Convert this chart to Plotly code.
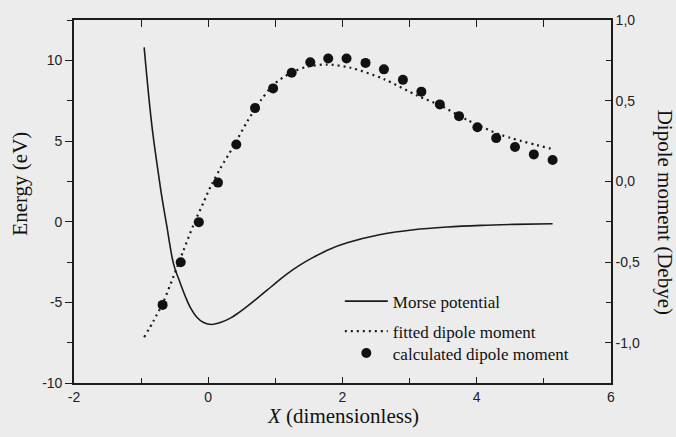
import plotly.graph_objects as go

# ---- data ----
morse_x = [-0.955, -0.84, -0.74, -0.69, -0.62, -0.518, -0.418, -0.34, -0.27, -0.17, -0.07,
           0.055, 0.2, 0.33, 0.45, 0.58, 0.72, 0.876, 1.02, 1.17, 1.37, 1.57, 1.8, 2.07,
           2.567, 3.06, 3.56, 4.06, 4.56, 5.13]
morse_e = [10.8, 5.95, 2.9, 1.5, -0.2, -2.6, -3.8, -4.65, -5.3, -5.92, -6.25,
           -6.37, -6.22, -5.98, -5.65, -5.25, -4.78, -4.25, -3.75, -3.25, -2.68, -2.2, -1.72, -1.31,
           -0.8, -0.5, -0.33, -0.23, -0.17, -0.13]

fit_x = [-0.955, -0.816, -0.667, -0.518, -0.37, -0.22, -0.07, 0.05, 0.18, 0.38, 0.58,
         0.78, 0.975, 1.22, 1.47, 1.77, 2.12, 2.62, 3.11, 3.46, 3.86, 4.36, 5.1]
fit_mu = [-0.966, -0.866, -0.745, -0.59, -0.43, -0.27, -0.13, -0.02, 0.08, 0.22, 0.37,
          0.50, 0.60, 0.67, 0.71, 0.724, 0.704, 0.633, 0.532, 0.47, 0.38, 0.288, 0.203]

calc_x = [-0.68, -0.41, -0.14, 0.145, 0.418, 0.697, 0.966, 1.243, 1.52, 1.787, 2.06,
          2.343, 2.617, 2.9, 3.175, 3.45, 3.736, 4.01, 4.29, 4.57, 4.85, 5.13]
calc_mu = [-0.766, -0.502, -0.253, -0.008, 0.228, 0.454, 0.576, 0.673, 0.738, 0.761, 0.761,
           0.734, 0.694, 0.629, 0.556, 0.477, 0.404, 0.335, 0.268, 0.213, 0.167, 0.132]

x_ticks = [-2, 0, 2, 4, 6]
x_ticktext = ["-2", "0", "2", "4", "6"]
e_ticks = [-10, -5, 0, 5, 10]
e_ticktext = ["-10", "-5", "0", "5", "10"]
mu_ticks = [-1.0, -0.5, 0.0, 0.5, 1.0]
mu_ticktext = ["-1,0", "-0,5", "0,0", "0,5", "1,0"]

BG = "#ececec"
INK = "#1c1c1c"
SERIF = "Liberation Serif, Times New Roman, serif"
SANS = "Liberation Sans, Arial, sans-serif"

fig = go.Figure()
fig.add_trace(go.Scatter(x=morse_x, y=morse_e, mode="lines", name="Morse potential",
                         line=dict(color=INK, width=1.6, shape="spline", smoothing=1.0),
                         xaxis="x", yaxis="y", legendgroup="a"))
fig.add_trace(go.Scatter(x=fit_x, y=fit_mu, mode="lines", name="fitted dipole moment",
                         line=dict(color=INK, width=2.2, dash="2px,4px", shape="spline", smoothing=0.8),
                         xaxis="x2", yaxis="y2", legendgroup="b"))
fig.add_trace(go.Scatter(x=calc_x, y=calc_mu, mode="markers", name="calculated dipole moment",
                         marker=dict(color="#111111", size=10, line=dict(width=0)),
                         xaxis="x2", yaxis="y2", legend="legend2"))

axis_common = dict(showline=True, linecolor=INK, linewidth=1.6, showgrid=False, zeroline=False,
                   tickcolor=INK, tickwidth=1.4, tickfont=dict(family=SANS, size=14, color="#222"))

legend_common = dict(xanchor="left", yanchor="top", bgcolor="rgba(0,0,0,0)",
                     font=dict(family=SERIF, size=17, color="#111"), itemwidth=43)

fig.update_layout(
    width=676, height=437,
    margin=dict(l=74, r=65, t=13, b=54),
    paper_bgcolor=BG, plot_bgcolor=BG,
    xaxis=dict(range=[-2, 6], tickvals=x_ticks, ticktext=x_ticktext, ticks="inside", ticklen=6,
               minor=dict(dtick=1, ticks="inside", ticklen=5, tickcolor=INK, tickwidth=1.4),
               **axis_common),
    xaxis2=dict(range=[-2, 6], overlaying="x", side="top", anchor="y2", tickvals=x_ticks,
                ticks="inside", ticklen=7, showticklabels=False,
                minor=dict(dtick=1, ticks="inside", ticklen=7, tickcolor=INK, tickwidth=1.4),
                **axis_common),
    yaxis=dict(range=[-10, 12.5], tickvals=e_ticks, ticktext=e_ticktext, ticks="outside", ticklen=7,
               minor=dict(dtick=2.5, ticks="outside", ticklen=5, tickcolor=INK, tickwidth=1.4),
               **axis_common),
    yaxis2=dict(range=[-1.25, 1.0], overlaying="y", side="right", anchor="x2",
                tickvals=mu_ticks, ticktext=mu_ticktext, ticks="inside", ticklen=6,
                minor=dict(dtick=0.25, ticks="inside", ticklen=5, tickcolor=INK, tickwidth=1.4),
                **axis_common),
    showlegend=True,
    legend=dict(x=0.495, y=0.274, traceorder="grouped", tracegroupgap=5, **legend_common),
    legend2=dict(x=0.495, y=0.131, **legend_common),
    annotations=[
        dict(text="Energy (eV)", xref="paper", yref="paper", x=-0.1, y=0.55, showarrow=False,
             textangle=-90, font=dict(family=SERIF, size=21, color="#111"), xanchor="center", yanchor="middle"),
        dict(text="Dipole moment (Debye)", xref="paper", yref="paper", x=1.1, y=0.47, showarrow=False,
             textangle=90, font=dict(family=SERIF, size=21, color="#111"), xanchor="center", yanchor="middle"),
        dict(text="<i>X</i> (dimensionless)", xref="paper", yref="paper", x=0.5, y=-0.09, showarrow=False,
             font=dict(family=SERIF, size=21, color="#111"), xanchor="center", yanchor="middle"),
    ],
)

fig.write_html("out.html")
